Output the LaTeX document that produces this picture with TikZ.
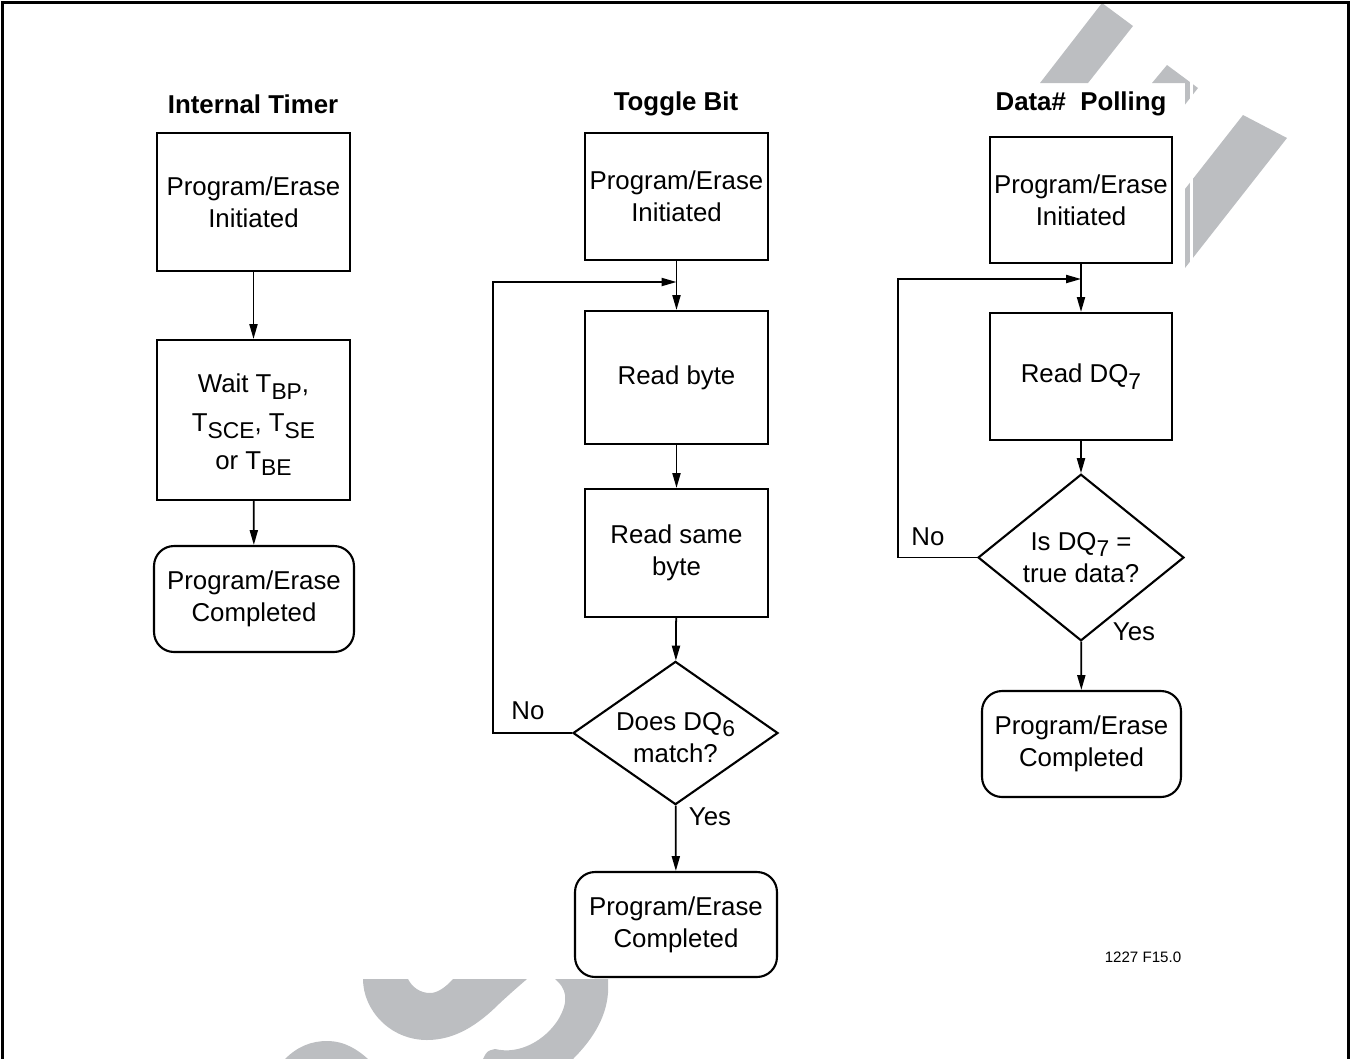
\documentclass[tikz,border=0pt]{standalone}
\usepackage{fontspec}
\setmainfont{Liberation Sans}
\usetikzlibrary{shapes.geometric, arrows.meta}
\definecolor{wmgray}{RGB}{188,190,193}
\newcommand{\idx}[1]{\raisebox{-3.6pt}{\fontsize{13}{13}\selectfont #1}}

\begin{document}
\begin{tikzpicture}[x=0.02cm, y=-0.02cm,
        txt/.style={font=\fontsize{14.7}{18.2}\selectfont, align=center},
        box/.style={txt, rectangle, draw, line width=1.2pt, fill=white, inner sep=0pt},
        endbox/.style={box, rounded corners=0.4cm},
        decision/.style={txt, diamond, draw, line width=1.2pt, fill=white, inner sep=0pt,
                         minimum width=4.1cm, minimum height=2.8cm},
        title/.style={font=\fontsize{14.7}{18.2}\selectfont\bfseries, anchor=base},
        lbl/.style={txt},
        arrow/.style={->, >={Triangle[length=8.5pt, width=4.6pt]}, line width=1pt}
    ]
        \useasboundingbox (0,0) rectangle (1350,1059);

        % Watermark (top right)
        \fill[wmgray] (1040,83) -- (1102,3) -- (1133,26) -- (1088,83) -- cycle;
        \fill[wmgray] (1152,83) -- (1167,65) -- (1198,88) -- (1185,104.6) -- (1185,83) -- cycle;
        \fill[wmgray] (1185,189) -- (1243,115) -- (1287,138) -- (1185,268) -- cycle;
        \fill[white] (1190,80) rectangle (1193,272);

        % Watermark (bottom)
        \fill[wmgray] (363,979) .. controls (363,1010) and (390,1040) .. (427,1040)
            .. controls (455,1040) and (478,1025) .. (500,1003)
            .. controls (512,992) .. (527,979) -- (453,979)
            .. controls (445,988) and (437,993) .. (430,993)
            .. controls (420,993) and (412,987) .. (408,979) -- cycle;
        \fill[wmgray] (555,979) -- (608,979) -- (608,993)
            .. controls (606,1020) and (590,1042) .. (573,1059) -- (483,1059)
            .. controls (487,1051) .. (495,1049)
            .. controls (520,1055) and (545,1040) .. (558,1020)
            .. controls (570,1000) and (566,988) .. cycle;
        \fill[wmgray] (285,1059) .. controls (298,1046) and (312,1041) .. (327,1041)
            .. controls (345,1041) and (358,1050) .. (368,1059) -- cycle;

        % Frame
        \draw[line width=1.7pt] (2.5,1059) -- (2.5,2.5) -- (1348.5,2.5) -- (1348.5,1059);

        % Titles
        \node[title] (ITtitle) at (253,113) {Internal Timer};
        \node[title] (TBtitle) at (676,110) {Toggle Bit};
        \node[title] (DPtitle) at (1081,110) {Data\#\ \ Polling};

        % Internal Timer
        \node[box, minimum width=3.86cm, minimum height=2.76cm] (IT1) at (253.5,202) {Program/Erase\\Initiated};
        \node[box, minimum width=3.86cm, minimum height=3.2cm] (IT2) at (253.5,420)
            {\rule{0pt}{16pt}Wait T\idx{BP},\\[4pt] T\idx{SCE}, T\idx{SE}\\[3pt] or T\idx{BE}};
        \node[endbox, minimum width=4cm, minimum height=2.12cm] (IT3) at (254,599) {Program/Erase\\Completed};

        % Toggle Bit
        \node[box, minimum width=3.66cm, minimum height=2.54cm] (TB1) at (676.5,196.5) {Program/Erase\\Initiated};
        \node[box, minimum width=3.66cm, minimum height=2.66cm] (TB2) at (676.5,377.5) {Read byte};
        \node[box, minimum width=3.66cm, minimum height=2.56cm] (TB3) at (676.5,553) {Read same\\byte};
        \node[decision, inner sep=-5pt] (TBd) at (675.5,733) {\rule{0pt}{15.5pt}Does DQ\idx{6}\\match?};
        \node[endbox, minimum width=4.04cm, minimum height=2.1cm] (TB4) at (676,924.5) {Program/Erase\\Completed};

        % Data# Polling
        \node[box, minimum width=3.64cm, minimum height=2.52cm] (DP1) at (1081,200) {Program/Erase\\Initiated};
        \node[box, minimum width=3.64cm, minimum height=2.54cm] (DP2) at (1081,376.5) {Read DQ\idx{7}};
        \node[decision, minimum width=4.12cm, minimum height=2.82cm] (DPd) at (1081,557.5) {Is DQ\idx{7} =\\true data?};
        \node[endbox, minimum width=3.98cm, minimum height=2.12cm] (DP3) at (1081.5,744) {Program/Erase\\Completed};

        % Labels
        \node[lbl] (TBno) at (528,711) {No};
        \node[lbl] (TByes) at (710,817) {Yes};
        \node[lbl] (DPno) at (928,537) {No};
        \node[lbl] (DPyes) at (1134,632) {Yes};
        \node[font=\fontsize{8.6}{10}\selectfont] (figid) at (1143,957) {1227 F15.0};

        % Verbindungen
        \foreach \a/\b in {IT1/IT2, IT2/IT3, TB1/TB2, TB2/TB3, TB3/TBd, TBd/TB4, DP1/DP2, DP2/DPd, DPd/DP3}
            \draw[arrow] (\a) -- (\b);

        % Loops back
        \coordinate (TBturn) at (493,282);
        \draw[arrow] (TBd.west) -| (TBturn) -- (TBturn -| TB1.south);
        \coordinate (DPturn) at (898,279);
        \draw[arrow] (DPd.west) -| (DPturn) -- (DPturn -| DP1.south);

\end{tikzpicture}
\end{document}
